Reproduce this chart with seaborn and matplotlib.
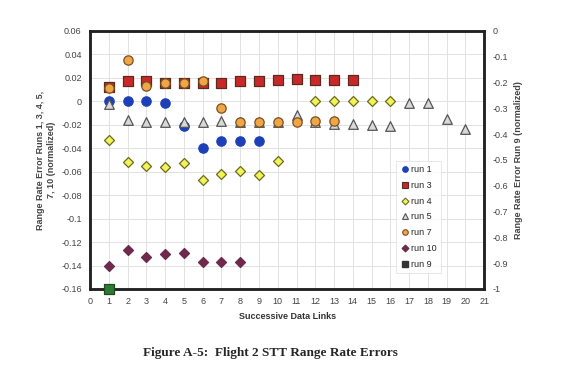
import numpy as np
import pandas as pd
import matplotlib
matplotlib.use("Agg")
import matplotlib.pyplot as plt
import seaborn as sns

# data
run1_x = [1, 2, 3, 4, 5, 6, 7, 8, 9]
run1_y = [0.0, 0.0, 0.0, -0.001, -0.021, -0.040, -0.034, -0.034, -0.034]

run3_x = [1, 2, 3, 4, 5, 6, 7, 8, 9, 10, 11, 12, 13, 14]
run3_y = [0.012, 0.017, 0.017, 0.016, 0.016, 0.016, 0.016, 0.017, 0.017,
          0.018, 0.019, 0.018, 0.018, 0.018]

run4_x = [1, 2, 3, 4, 5, 6, 7, 8, 9, 10, 12, 13, 14, 15, 16]
run4_y = [-0.033, -0.052, -0.055, -0.056, -0.053, -0.067, -0.062, -0.059,
          -0.063, -0.051, 0.0, 0.0, 0.0, 0.0, 0.0]

run5_x = [1, 2, 3, 4, 5, 6, 7, 8, 9, 10, 11, 12, 13, 14, 15, 16, 17, 18, 19, 20]
run5_y = [-0.002, -0.016, -0.018, -0.018, -0.018, -0.018, -0.017, -0.018,
          -0.018, -0.018, -0.012, -0.018, -0.019, -0.019, -0.020, -0.021,
          -0.001, -0.001, -0.015, -0.024]

run7_x = [1, 2, 3, 4, 5, 6, 7, 8, 9, 10, 11, 12, 13]
run7_y = [0.011, 0.035, 0.013, 0.016, 0.016, 0.017, -0.006, -0.018, -0.018,
          -0.018, -0.018, -0.017, -0.017]

run10_x = [1, 2, 3, 4, 5, 6, 7, 8]
run10_y = [-0.140, -0.127, -0.133, -0.130, -0.129, -0.137, -0.137, -0.137]

run9_x = [1]
run9_y = [-1.0]

left_ticks = [0.06, 0.04, 0.02, 0, -0.02, -0.04, -0.06, -0.08, -0.1, -0.12, -0.14, -0.16]
left_labels = ["0.06", "0.04", "0.02", "0", "-0.02", "-0.04", "-0.06", "-0.08",
               "-0.1", "-0.12", "-0.14", "-0.16"]
right_ticks = [0, -0.1, -0.2, -0.3, -0.4, -0.5, -0.6, -0.7, -0.8, -0.9, -1]
right_labels = ["0", "-0.1", "-0.2", "-0.3", "-0.4", "-0.5", "-0.6", "-0.7",
                "-0.8", "-0.9", "-1"]
x_ticks = list(range(0, 22))

# series styles: (label, x, y, marker, face, edge, size)
series = [
    ("run 1", run1_x, run1_y, "o", "#1d3fb8", "#1d3fb8", 45),
    ("run 3", run3_x, run3_y, "s", "#c8282a", "#5a2a20", 45),
    ("run 4", run4_x, run4_y, "D", "#f2f25a", "#6b6b20", 26),
    ("run 5", run5_x, run5_y, "^", "#d9d9d9", "#555555", 48),
    ("run 7", run7_x, run7_y, "o", "#f0a546", "#7a5020", 45),
    ("run 10", run10_x, run10_y, "D", "#6e2a4c", "#6e2a4c", 26),
]

sns.set_style("white")
plt.rcParams["font.family"] = ["Liberation Sans", "DejaVu Sans"]

fig = plt.figure(figsize=(5.63, 3.80), dpi=100)
ax = fig.add_axes([0.160, 0.2395, 0.700, 0.679])
ax2 = ax.twinx()

handles = []
for i, (lab, xs, ys, mk, fc, ec, sz) in enumerate(series):
    df = pd.DataFrame({"x": xs, "y": ys})
    sns.scatterplot(data=df, x="x", y="y", ax=ax, marker=mk, color=fc,
                    edgecolor=ec, linewidth=0.9, s=sz, zorder=3 + i)
    handles.append(plt.Line2D([], [], ls="", marker=mk, markersize=4 if mk != "D" else 3.5,
                              markerfacecolor=fc, markeredgecolor=ec,
                              markeredgewidth=0.8, label=lab))

df9 = pd.DataFrame({"x": run9_x, "y": run9_y})
sns.scatterplot(data=df9, x="x", y="y", ax=ax2, marker="s", color="#2f7a32",
                edgecolor="#1f4a20", linewidth=0.9, s=50, zorder=5, clip_on=False)
handles.append(plt.Line2D([], [], ls="", marker="s", markersize=4,
                          markerfacecolor="#333333", markeredgecolor="#333333",
                          label="run 9"))

ax.set_xlim(0, 21)
ax.set_ylim(-0.16, 0.06)
ax2.set_ylim(-1, 0)
ax.set_xticks(x_ticks)
ax.set_xticklabels([str(t) for t in x_ticks])
ax.set_yticks(left_ticks)
ax.set_yticklabels(left_labels)
ax2.set_yticks(right_ticks)
ax2.set_yticklabels(right_labels)

ax.grid(True, color="#e2e2e2", linewidth=0.7)
ax.set_axisbelow(True)
for a in (ax, ax2):
    for sp in a.spines.values():
        sp.set_linewidth(1.8)
        sp.set_color("#222222")
    a.tick_params(labelsize=6.5, colors="#444444", length=0, pad=6)

ax.set_xlabel("Successive Data Links", fontsize=6.5, fontweight="bold", color="#333333")
ax.set_ylabel("Range Rate Error Runs 1, 3, 4, 5,\n7, 10 (normalized)", fontsize=6.5,
              fontweight="bold", color="#444444", labelpad=4)
ax2.set_ylabel("Range Rate Error Run 9 (normalized)", fontsize=6.5,
               fontweight="bold", color="#444444", labelpad=4)

leg = ax.legend(handles=handles, loc="upper left", bbox_to_anchor=(0.765, 0.515),
                fontsize=6.5, frameon=True, handletextpad=0.1, borderpad=0.5,
                labelspacing=0.75, handlelength=1.0, fancybox=False)
leg.get_frame().set_edgecolor("#dddddd")
leg.get_frame().set_linewidth(0.6)
leg.set_zorder(20)

fig.text(0.48, 0.07, "Figure A-5:  Flight 2 STT Range Rate Errors", ha="center",
         va="center", fontsize=9.5, fontweight="bold",
         family=["Liberation Serif", "DejaVu Serif"])

fig.savefig("out.png", dpi=100)
